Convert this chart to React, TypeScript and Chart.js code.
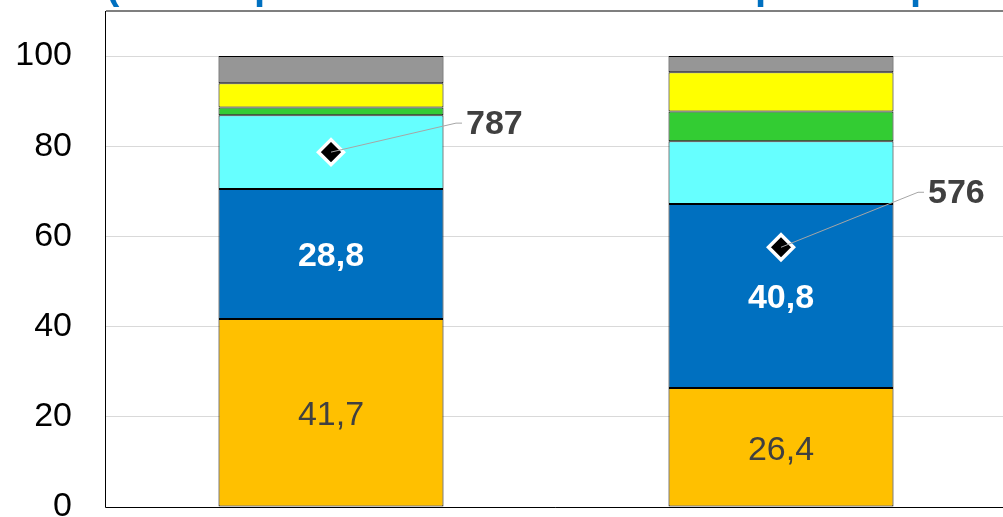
import { useEffect, useRef } from 'react';
import { Chart, registerables } from 'chart.js';

Chart.register(...registerables);

const categories = ['Groupe 1', 'Groupe 2'];
const seriesNames = ['Série 1', 'Série 2', 'Série 3', 'Série 4', 'Série 5', 'Série 6'];
const orangeValues = [41.7, 26.4];
const blueValues = [28.8, 40.8];
const cyanValues = [16.4, 13.9];
const greenValues = [1.7, 6.6];
const yellowValues = [5.4, 8.7];
const grayValues = [6.0, 3.6];
const totalValues = [787, 576];
const yMin = 0;
const yMax = 110;
const yStep = 20;
const y2Max = 1100;

const seriesColors = ['#FFC000', '#0070C0', '#66FFFF', '#33CC33', '#FFFF00', '#969696'];
const labelOffsets = [
  { dx: 125, dy: -29 },
  { dx: 137, dy: -55 },
];
const FONT = '"Liberation Sans", Arial, sans-serif';

const fmt = (v: number) => v.toFixed(1).replace('.', ',');

const framePlugin = {
  id: 'frame',
  afterDatasetsDraw(chart: any) {
    const { ctx, chartArea } = chart;
    const { left, right, top, bottom } = chartArea;
    ctx.save();
    ctx.strokeStyle = '#7f7f7f';
    ctx.lineWidth = 2;
    ctx.beginPath();
    ctx.moveTo(left, top);
    ctx.lineTo(right, top);
    ctx.stroke();
    ctx.strokeStyle = '#000';
    ctx.lineWidth = 1;
    ctx.beginPath();
    ctx.moveTo(Math.round(left) - 0.5, top);
    ctx.lineTo(Math.round(left) - 0.5, Math.round(bottom) + 0.5);
    ctx.lineTo(right, Math.round(bottom) + 0.5);
    ctx.stroke();

    const specs = [
      { ds: 0, color: '#404040', weight: 'normal' },
      { ds: 1, color: '#ffffff', weight: 'bold' },
    ];
    ctx.textAlign = 'center';
    ctx.textBaseline = 'middle';
    specs.forEach((s) => {
      const meta = chart.getDatasetMeta(s.ds);
      meta.data.forEach((el: any, i: number) => {
        const v = chart.data.datasets[s.ds].data[i] as number;
        const yc = (el.y + el.base) / 2;
        ctx.font = `${s.weight} 34px ${FONT}`;
        ctx.fillStyle = s.color;
        ctx.fillText(fmt(v), el.x, yc + 3);
      });
    });

    const meta = chart.getDatasetMeta(6);
    meta.data.forEach((el: any, i: number) => {
      const off = labelOffsets[i];
      const kx = el.x + off.dx;
      const ky = el.y + off.dy;
      ctx.strokeStyle = '#a6a6a6';
      ctx.lineWidth = 1;
      ctx.beginPath();
      ctx.moveTo(el.x, el.y);
      ctx.lineTo(kx, ky);
      ctx.lineTo(kx + 6, ky);
      ctx.stroke();
      ctx.font = `bold 34px ${FONT}`;
      ctx.fillStyle = '#404040';
      ctx.textAlign = 'left';
      ctx.textBaseline = 'middle';
      ctx.fillText(String(chart.data.datasets[6].data[i]), kx + 10, ky + 1);
    });
    ctx.restore();
  },
  afterDraw(chart: any) {
    const { ctx } = chart;
    ctx.save();
    ctx.fillStyle = '#0070C0';
    ctx.font = `bold 40px ${FONT}`;
    ctx.textBaseline = 'alphabetic';
    ctx.textAlign = 'left';
    ctx.fillText('(', 106, -1);
    ctx.fillText('p', 254, -1.5);
    ctx.fillText('p', 755, -1.5);
    ctx.fillText('p', 910, -1.5);
    ctx.restore();
  },
};

export default function App() {
  const ref = useRef<HTMLCanvasElement>(null);
  useEffect(() => {
    const barSeries = [orangeValues, blueValues, cyanValues, greenValues, yellowValues, grayValues];
    const datasets: any[] = barSeries.map((vals, i) => ({
      type: 'bar',
      label: seriesNames[i],
      data: vals,
      backgroundColor: seriesColors[i],
      borderColor: '#000000',
      borderWidth: 1,
      borderSkipped: false,
      barPercentage: 0.5,
      categoryPercentage: 1,
      yAxisID: 'y',
      order: 1,
    }));
    datasets.push({
      type: 'line',
      label: 'Total',
      data: totalValues,
      showLine: false,
      pointStyle: 'rectRot',
      pointRadius: 12.5,
      pointBackgroundColor: '#000000',
      pointBorderColor: '#ffffff',
      pointBorderWidth: 3.5,
      yAxisID: 'y1',
      order: 0,
    });
    const chart = new Chart(ref.current!, {
      type: 'bar',
      data: { labels: categories, datasets },
      options: {
        responsive: false,
        devicePixelRatio: 1,
        animation: false,
        layout: { autoPadding: false, padding: { left: 0, right: 4, top: 11, bottom: 10 } },
        plugins: { legend: { display: false }, tooltip: { enabled: false } },
        scales: {
          x: { display: false, stacked: true, offset: true },
          y: {
            stacked: true,
            min: yMin,
            max: yMax,
            ticks: {
              stepSize: yStep,
              color: '#000',
              padding: 34,
              font: { size: 34, family: FONT },
            },
            grid: { color: '#d9d9d9', drawTicks: false, lineWidth: 1 },
            border: { display: false },
            afterFit: (s: any) => {
              s.width = 106;
              s.paddingTop = 0;
              s.paddingBottom = 0;
            },
            afterBuildTicks: (s: any) => {
              s.ticks = s.ticks.filter((t: any) => t.value <= 100);
            },
          },
          y1: { display: false, min: 0, max: y2Max, stacked: false },
        },
      } as any,
      plugins: [framePlugin],
    });
    return () => chart.destroy();
  }, []);
  return (
    <div
      style={{
        position: 'fixed',
        left: 0,
        top: 0,
        width: 1003,
        height: 517,
        overflow: 'hidden',
        background: '#fff',
      }}
    >
      <canvas ref={ref} width={1010} height={517} style={{ display: 'block', width: 1010, height: 517 }} />
    </div>
  );
}
